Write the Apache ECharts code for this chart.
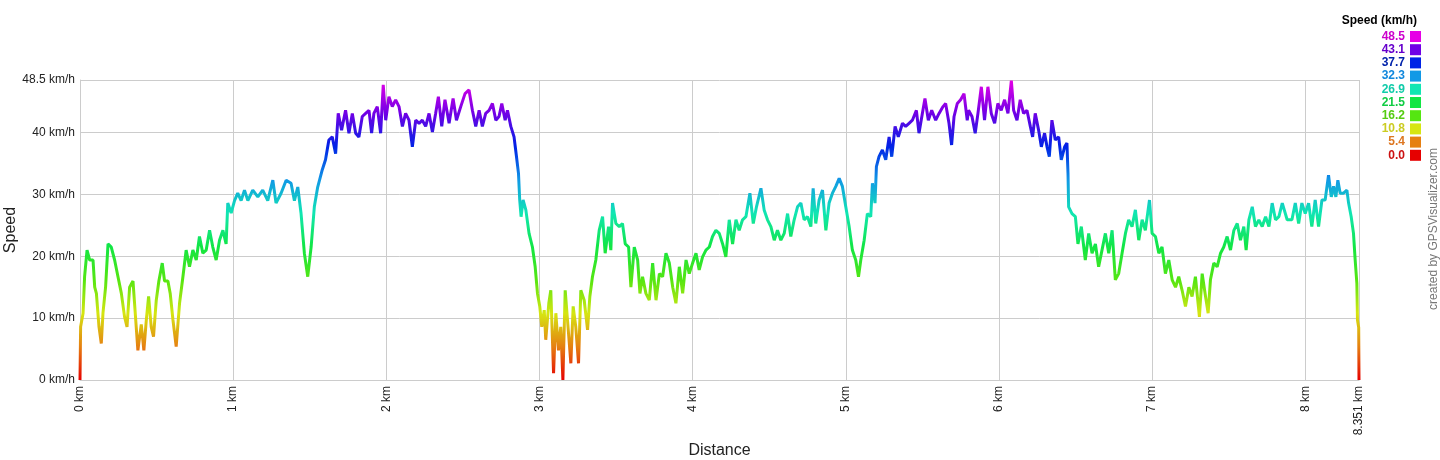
<!DOCTYPE html>
<html>
<head>
<meta charset="utf-8">
<script src="https://cdn.jsdelivr.net/npm/echarts@6/dist/echarts.min.js"></script>
<style>
html,body{margin:0;padding:0;background:#fff;}
#chart{width:1440px;height:460px;}
</style>
</head>
<body>
<div id="chart"></div>
<script>
// Distance (km)
const dist = [
0,0.004,0.020,0.030,0.046,0.063,0.085,0.096,0.107,0.124,0.139,0.150,0.167,0.183,0.204,0.226,0.248,0.270,0.291,0.307,
0.324,0.346,0.367,0.378,0.400,0.417,0.433,0.448,0.465,0.480,0.498,0.515,0.537,0.552,0.574,0.589,0.607,0.628,0.650,0.672,
0.693,0.715,0.737,0.759,0.780,0.802,0.824,0.846,0.867,0.889,0.911,0.933,0.954,0.965,0.987,1.009,1.030,1.052,1.074,1.096,
1.128,1.161,1.193,1.226,1.259,1.280,1.313,1.346,1.378,1.400,1.422,1.443,1.465,1.487,1.509,1.530,1.552,
1.582,1.603,1.625,1.647,1.669,1.686,1.708,1.734,1.756,1.778,1.800,1.821,1.843,1.865,1.887,1.904,1.919,1.941,1.963,1.980,
1.996,2.017,2.039,2.061,2.083,2.105,2.126,2.148,2.170,2.192,2.214,2.235,2.257,2.279,2.301,2.322,2.340,2.362,2.383,2.410,
2.436,2.458,2.486,2.514,2.540,2.562,2.584,2.606,2.627,2.649,2.671,2.693,2.715,2.736,2.754,2.776,2.791,2.813,2.834,2.850,
2.863,2.871,2.880,2.893,2.911,2.932,2.954,2.972,2.987,3.002,3.015,3.031,3.041,3.061,3.074,3.092,3.107,3.124,3.139,3.153,
3.168,3.183,3.205,3.220,3.237,3.255,3.270,3.292,3.314,3.329,3.346,3.368,3.390,3.412,3.429,3.451,3.466,3.477,3.499,3.521,
3.542,3.560,3.582,3.597,3.619,3.641,3.656,3.673,3.695,3.717,
3.739,3.761,3.783,3.804,3.826,3.848,3.870,3.891,3.913,3.935,3.957,3.978,4.000,4.022,4.043,4.065,4.087,4.109,4.130,4.152,
4.174,4.196,4.217,4.239,4.261,4.283,4.304,4.326,4.348,4.374,4.396,4.417,4.446,4.467,4.489,4.511,4.533,4.554,4.576,4.598,
4.620,4.641,4.663,4.685,4.707,4.728,4.750,4.772,4.787,4.804,4.826,4.848,4.870,4.891,4.913,4.935,4.957,4.978,5.000,5.022,
5.043,5.065,5.083,5.098,5.120,5.141,5.163,5.174,5.191,5.200,5.217,5.239,5.261,5.283,5.300,5.322,5.343,5.370,5.391,5.413,
5.435,5.461,5.478,5.500,5.517,5.539,5.561,5.587,5.609,5.635,5.652,5.674,5.691,5.707,5.728,5.750,5.772,5.793,
5.802,5.824,5.845,5.863,5.885,5.906,5.928,5.950,5.972,5.993,6.015,6.037,6.059,6.081,6.096,6.118,6.139,6.161,6.183,6.205,
6.220,6.237,6.259,6.277,6.298,6.314,6.329,6.346,6.368,6.390,6.407,6.429,6.444,6.451,6.455,6.477,6.499,6.516,6.538,6.564,
6.586,6.608,6.630,6.651,6.673,6.695,6.717,6.739,6.760,6.782,6.804,6.826,6.847,6.869,6.891,6.913,6.935,6.956,6.983,7.000,
7.022,7.044,7.065,7.087,7.109,7.131,7.153,7.174,7.196,7.218,7.240,7.261,7.283,7.309,7.327,7.349,7.366,7.381,7.403,7.425,
7.447,7.468,7.490,7.512,7.534,7.556,7.577,7.599,7.614,7.632,7.654,7.675,7.697,7.719,7.741,7.763,7.784,7.806,7.828,7.850,
7.882,7.913,7.935,7.957,7.978,8.000,8.022,8.043,8.065,8.087,8.109,8.130,8.152,8.170,8.185,8.200,8.213,8.228,8.250,8.272,
8.283,8.300,8.315,8.326,8.337,8.341,8.349,8.351
];
// Speed (km/h)
const speed = [
0,8.6,10.8,16.7,21,19.4,19.4,15,14,8.6,5.9,10.8,15,22,21.5,19.4,16.7,14,10.2,8.6,
15,16,8.6,4.8,9,4.8,9.7,13.5,8.6,7,12.9,16,18.9,16,16,14,9.7,5.4,12.4,16.7,
21,18.3,21,19.4,23.2,20.5,21,24.2,21.5,19.4,22.6,24.2,22,28.6,27,29,30.2,29,30.7,29,
30.7,29.6,30.7,29,32.3,28.6,30.2,32.3,31.8,29,31.2,27,20.5,16.7,21.5,28,31.2,
34,35.6,38.8,39.3,36.6,43.1,40.4,43.6,39.9,43.1,39.9,39.3,42.6,43.1,43.6,39.9,43.1,44.2,39.9,47.7,
42,45.8,44.2,45.3,44.2,41,43.1,42,37.7,42,41.5,42,41,43.1,40.1,43.1,45.8,41,45.3,41.5,
45.5,42,44.2,46.3,46.9,43.6,41,43.6,41,43.1,43.6,44.7,42,42.6,44.7,42,43.6,41,39.3,36.1,
33.4,29.1,26.4,29.1,27.5,23.7,21.5,18.3,14,11.9,8.6,11.3,6.5,12.4,14.5,1.1,10.8,4.8,8.6,0,
14.5,9.7,2.7,11.9,8.6,2.7,14.5,12.9,8.1,13.5,16.7,19.4,24.2,26.4,20.5,24.8,21,28.6,25.3,24.8,
25.3,22,21.5,15,21.5,19.4,14,16.7,14,12.9,
18.9,12.9,17.2,16.7,20.5,18.9,15,12.4,18.3,14,19.4,17.2,18.9,20.5,17.8,19.9,21,21.5,23.2,24.2,
23.7,22,19.9,25.9,22,25.9,24.2,25.9,26.4,30.2,25.3,28,31,27.5,25.9,24.8,22.6,24.2,22.6,23.7,
26.9,23.2,25.9,28,28.6,25.9,26.4,24.8,31,25.3,29.1,30.7,24.2,28.6,30.2,31.3,32.6,31.3,28,24.8,
21,19.4,16.7,19.4,22.6,26.9,26.4,31.8,28.6,34.5,36.1,37.2,35.6,39.3,36.1,41,39.3,41.5,41,41.5,
42,43.6,39.9,43.1,45.5,42,43.6,42,43.1,44.2,44.7,41.5,38,42.6,44.7,45.3,46.3,42,
43.6,42.6,39.9,43.1,47.4,42,47.4,43.1,41.5,44.7,43.6,45.3,43.1,48.4,43.6,42,45.3,43.1,43.6,41,
39.3,43.1,40.4,37.7,39.9,37.7,36.1,42,38.8,39.3,35.6,37.7,38.3,33.4,28,26.9,26.4,22,24.8,19.4,
23.7,20.5,22,18.3,21,23.7,20.5,24.2,16.2,17.2,20.5,23.7,25.9,24.8,27.5,22.6,25.9,24.2,29.1,23.7,
23.2,20.5,21.5,17.2,19.4,16.2,15,16.7,14.5,11.9,15,13.5,16.7,10.2,17.2,13.5,10.8,16.2,18.9,18.3,
20.5,21.5,23.2,21,24.2,25.3,22.6,24.8,21,25.9,28,24.8,25.9,24.8,26.4,24.8,28.6,25.9,26.4,28.6,
25.9,25.9,28.6,25.3,28.6,26.9,28.6,24.8,29.1,24.8,29.1,29.1,33.1,29.6,31.3,29.6,32.3,30.2,30.2,30.7,
28.6,26.4,23.7,19.4,15.6,9.7,8.5,0
];
// Legend bins
const legendLabels = ['48.5','43.1','37.7','32.3','26.9','21.5','16.2','10.8','5.4','0.0'];
const legendColors = ['#e600e6','#7000e6','#0022e6','#1199e6','#11e6b3','#11e644','#55e611','#d6e611','#e68011','#e60000'];
const legendTextColors = ['#cc00cc','#6600cc','#0022aa','#1188dd','#11ccaa','#11cc44','#55cc11','#cccc22','#dd7722','#cc1111'];
const xMax = 8.351, yMax = 48.5;

const chart = echarts.init(document.getElementById('chart'));
const data = dist.map((d, i) => [d, speed[i]]);
const FONT = '"Liberation Sans", Arial, sans-serif';
const graphics = [
  {type:'text', x: 1417, y: 21, style:{text:'Speed (km/h)', align:'right', verticalAlign:'middle', font:'bold 12px ' + FONT, fill:'#000'}}
];
legendLabels.forEach((lab, i) => {
  const y = 31 + i * 13.2;
  graphics.push({type:'rect', shape:{x:1410, y:y, width:11, height:11}, style:{fill:legendColors[i]}});
  graphics.push({type:'text', x:1405, y:y + 5.5, style:{text:lab, align:'right', verticalAlign:'middle', font:'bold 12px ' + FONT, fill:legendTextColors[i]}});
});
graphics.push({type:'text', x:1434, y:229, rotation:Math.PI/2, style:{text:'created by GPSVisualizer.com', align:'center', verticalAlign:'middle', font:'12px ' + FONT, fill:'#777'}});

chart.setOption({
  animation: false,
  backgroundColor: '#fff',
  grid: {left: 80, right: 81, top: 80, bottom: 80, containLabel: false, outerBoundsMode: 'none'},
  xAxis: {
    type: 'value', min: 0, max: xMax, interval: 1,
    name: 'Distance', nameLocation: 'middle', nameGap: 63, nameMoveOverlap: false,
    nameTextStyle: {fontFamily: FONT, fontSize: 16, color: '#222'},
    axisLine: {show: true, lineStyle: {color: '#ccc'}},
    axisTick: {show: false},
    splitLine: {show: true, lineStyle: {color: '#ccc', width: 1}},
    axisLabel: {rotate: 90, margin: 6, color: '#222', fontSize: 12, fontFamily: FONT,
      showMinLabel: true, showMaxLabel: true,
      formatter: v => (Math.abs(v - xMax) < 1e-6 ? '8.351' : v) + ' km'}
  },
  yAxis: {
    type: 'value', min: 0, max: yMax, interval: 10,
    name: 'Speed', nameLocation: 'middle', nameGap: 61, nameMoveOverlap: false,
    nameTextStyle: {fontFamily: FONT, fontSize: 16, color: '#222'},
    axisLine: {show: true, lineStyle: {color: '#ccc'}},
    axisTick: {show: false},
    splitLine: {show: true, lineStyle: {color: '#ccc', width: 1}},
    axisLabel: {margin: 5, color: '#222', fontSize: 12, fontFamily: FONT,
      showMinLabel: true, showMaxLabel: true,
      formatter: v => v + ' km/h'}
  },
  visualMap: {
    show: false, type: 'continuous', dimension: 1, min: 0, max: yMax, seriesIndex: 0,
    inRange: {color: legendColors.slice().reverse()}
  },
  series: [{
    type: 'line', data: data, symbol: 'none', showSymbol: false,
    lineStyle: {width: 3}
  }],
  graphic: graphics
});
</script>
</body>
</html>
